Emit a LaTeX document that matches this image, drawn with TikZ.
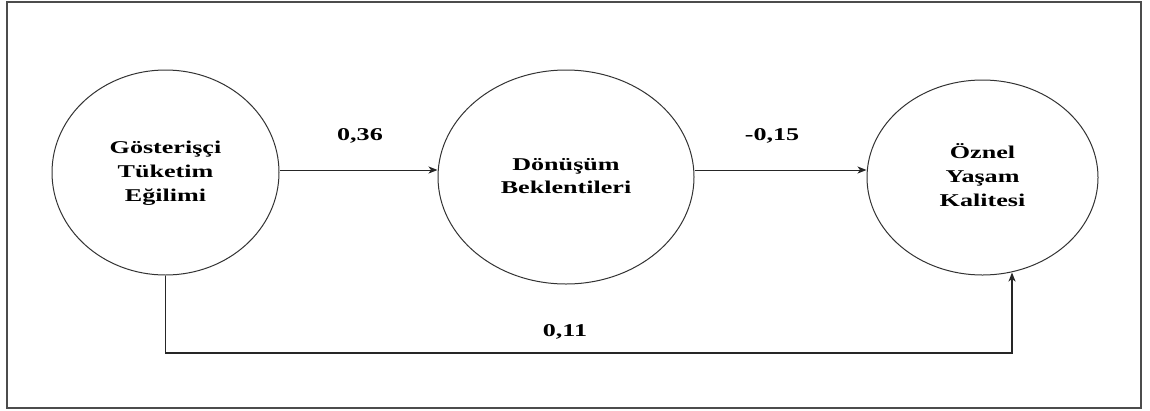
\documentclass[tikz,border=0pt]{standalone}
\usepackage{fontspec}
\setmainfont{Liberation Serif}
\usetikzlibrary{arrows.meta,shapes.geometric}
\newcommand{\widetext}[1]{\scalebox{1.45}[1]{\begin{tabular}{@{}c@{}}#1\end{tabular}}}
\begin{document}
\begin{tikzpicture}[x=1pt,y=-1pt,
  latent/.style={draw=black!80,line width=1pt,ellipse,inner sep=0pt,
    font=\fontsize{18}{25}\selectfont\bfseries},
  coef/.style={font=\fontsize{18}{22}\selectfont\bfseries,inner sep=0pt},
  path/.style={draw=black!85,line width=1pt,
    -{Stealth[length=9pt,width=7pt,inset=2.5pt]}},
  frame/.style={draw=black!70,line width=1.3pt}]
  \useasboundingbox (0,0) rectangle (1150,410);
  \fill[white] (0,0) rectangle (1150,410);
  \draw[frame] (7,2) rectangle (1141,408);

  % latent constructs
  \node[latent,minimum width=227pt,minimum height=205pt] (gte) at (165.5,172.5)
    {\widetext{Gösterişçi\\[-1pt]Tüketim\\[-1pt]Eğilimi}};
  \node[latent,minimum width=256pt,minimum height=214pt] (db) at (566,177)
    {\widetext{Dönüşüm\\[-2pt]Beklentileri}};
  \node[latent,minimum width=231pt,minimum height=195pt] (oyk) at (982.5,177.5)
    {\widetext{Öznel\\[-1pt]Yaşam\\[-1pt]Kalitesi}};

  % path coefficients
  \node[coef] (c1) at (360,136) {\scalebox{1.45}[1]{0,36}};
  \node[coef] (c2) at (772,136) {\scalebox{1.45}[1]{-0,15}};
  \node[coef] (c3) at (565,332) {\scalebox{1.45}[1]{0,11}};

  % structural paths
  \coordinate (yl) at (0,170);
  \coordinate (low) at (1012,353);
  \draw[path] (gte.east |- yl) -- (db.west |- yl);
  \draw[path] (db.east |- yl) -- (oyk.west |- yl);
  \draw[path,line width=1.3pt,shorten >=-3pt] (gte.south) |- (low) -- (low |- oyk.south);
\end{tikzpicture}
\end{document}
